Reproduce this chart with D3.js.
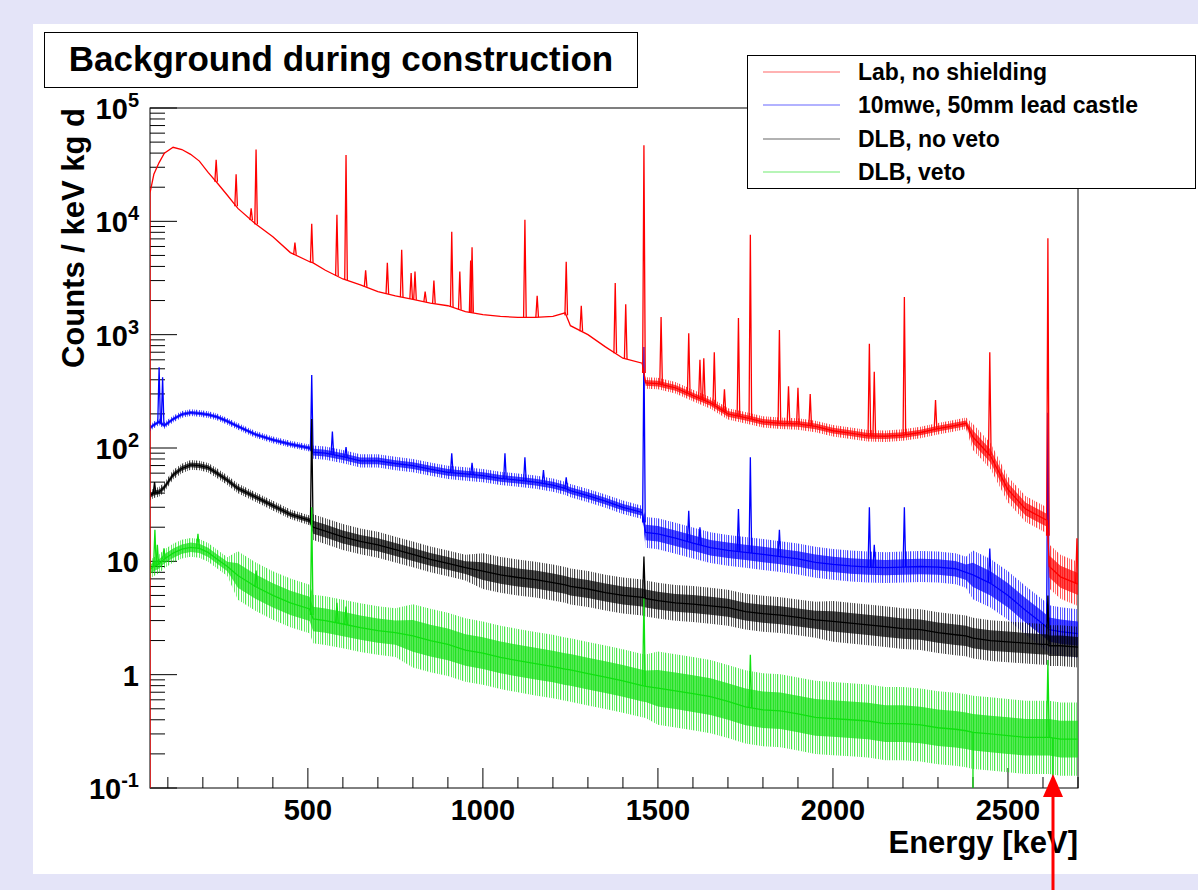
<!DOCTYPE html>
<html>
<head>
<meta charset="utf-8">
<script src="https://cdnjs.cloudflare.com/ajax/libs/d3/7.8.5/d3.min.js"></script>
<style>
  body { margin: 0; background: #e4e4f8; }
  svg { display: block; font-family: "Liberation Sans", Arial, sans-serif; font-weight: bold; }
</style>
</head>
<body>
<svg id="chart" width="1198" height="890"></svg>
<script>
// energy grid [keV] shared by the four spectra
const energy = [49, 60, 75, 90, 115, 140, 165, 190, 215, 240,
  270, 300, 350, 400, 450, 505, 515, 550, 600, 650,
  700, 750, 800, 850, 900, 950, 1000, 1050, 1100, 1150,
  1200, 1235, 1250, 1300, 1350, 1400, 1455, 1465, 1500, 1550,
  1600, 1650, 1700, 1750, 1800, 1850, 1900, 1950, 2000, 2050,
  2100, 2150, 2200, 2250, 2300, 2350, 2380, 2400, 2450, 2500, 2550,
  2600, 2612, 2618, 2650, 2700];

// continuum, counts / keV kg d
const labCounts = [17800, 26000, 33000, 40000, 45000, 43000, 39000, 34000, 27000, 22000,
  17000, 13000, 9500, 7300, 5300, 4400, 4300, 3700, 3100, 2750,
  2400, 2200, 2050, 1900, 1800, 1600, 1500, 1450, 1420, 1420,
  1450, 1560, 1200, 1000, 780, 620, 560, 375, 370, 340,
  290, 250, 200, 185, 170, 165, 163, 155, 142, 135,
  128, 127, 130, 137, 148, 158, 165, 125, 85, 43, 29,
  24, 23, 9, 7.3, 6.3];
const castleCounts = [150, 160, 170, 158, 180, 198, 205, 202, 197, 188,
  172, 155, 132, 118, 108, 100, 92, 90, 84, 77,
  77, 73, 70, 65, 61, 59, 57, 54, 52, 50,
  47, 44, 42, 38, 34, 30, 27, 18, 17.5, 16,
  14.5, 13.2, 12.5, 12, 11.5, 11, 10.5, 9.8, 9.4, 9.1,
  8.9, 8.8, 8.9, 9.0, 8.9, 8.6, 8.0, 7.6, 6.4, 5.0, 3.7,
  2.8, 2.6, 2.5, 2.4, 2.3];
const dlbCounts = [38, 40, 41, 45, 58, 66, 71, 70, 67, 60,
  52, 44, 37, 31, 26, 23, 20, 18.5, 16.4, 15,
  14, 12.7, 11.5, 10.4, 9.6, 8.8, 8.2, 7.6, 7.2, 6.9,
  6.5, 6.2, 6.0, 5.7, 5.3, 5.0, 4.8, 4.7, 4.5, 4.3,
  4.2, 4.05, 3.9, 3.6, 3.45, 3.35, 3.2, 3.05, 2.95, 2.85,
  2.75, 2.65, 2.55, 2.5, 2.35, 2.25, 2.2, 2.1, 2.0, 1.95, 1.9,
  1.85, 1.85, 1.8, 1.8, 1.75];
const vetoCounts = [8.5, 9, 9.5, 10.5, 11.8, 12.8, 13.3, 13, 12, 10.5,
  9, 7.5, 6.0, 5.0, 4.3, 3.8, 3.1, 3.0, 2.8, 2.6,
  2.45, 2.35, 2.2, 2.0, 1.85, 1.65, 1.55, 1.42, 1.33, 1.25,
  1.18, 1.12, 1.1, 1.02, 0.95, 0.88, 0.8, 0.79, 0.76, 0.72,
  0.68, 0.64, 0.58, 0.52, 0.49, 0.48, 0.45, 0.42, 0.41, 0.4,
  0.39, 0.37, 0.37, 0.36, 0.34, 0.33, 0.32, 0.31, 0.3, 0.29, 0.28,
  0.28, 0.28, 0.28, 0.27, 0.27];

// gamma lines [keV, peak height]
const labPeaks = [[238, 35000], [295, 26000], [338, 13000], [352, 43000], [463, 6500], [511, 9500],
  [583, 11400], [609, 38500], [665, 3700], [727, 4300], [768, 5600], [795, 3500], [806, 3600],
  [835, 2400], [860, 3000], [911, 8100], [934, 3600], [965, 4500], [969, 5900], [1120, 10300],
  [1155, 2200], [1238, 4400], [1281, 1800], [1378, 2850], [1408, 1850], [1460, 47000], [1509, 1430],
  [1588, 1030], [1620, 600], [1631, 620], [1661, 700], [1690, 330], [1730, 1400], [1764, 7600],
  [1847, 1100], [1873, 350], [1900, 340], [1935, 300], [2104, 830], [2118, 470], [2204, 2150],
  [2293, 265], [2448, 700], [2614, 7100], [2697, 16]];
const castlePeaks = [[75, 515], [85, 420], [511, 440], [570, 140], [609, 102], [911, 90], [969, 74],
  [1063, 90], [1120, 83], [1173, 64], [1238, 55], [1460, 780], [1588, 28], [1620, 20], [1730, 29],
  [1764, 83], [1847, 19], [2104, 30], [2118, 14], [2204, 30], [2448, 13], [2614, 205]];
const dlbPeaks = [[62, 50], [511, 180], [1460, 11], [2614, 5]];
const vetoPeaks = [[63, 19], [70, 14], [89, 13], [186, 17.5], [352, 8.3], [511, 30], [583, 4.3],
  [609, 4.0], [1460, 4.7], [1764, 1.5], [2614, 1.35]];
const vetoDips = [[2400, 0.1], [2628, 0.1]];

// fluctuation width of each spectrum [from keV, factor]
const labNoise = [[0, 1.0], [1460, 1.06], [2390, 1.14], [2614, 1.25]];
const castleNoise = [[0, 1.035], [515, 1.07], [1460, 1.17], [2390, 1.28]];
const dlbNoise = [[0, 1.05], [515, 1.14], [1000, 1.2], [2000, 1.23]];
const vetoNoise = [[0, 1.1], [300, 1.28], [800, 1.38], [1500, 1.45]];

const seriesNames = ["Lab, no shielding", "10mwe, 50mm lead castle", "DLB, no veto", "DLB, veto"];
const seriesColors = ["#ff0000", "#0000ff", "#000000", "#10e010"];

const xTickLabels = [500, 1000, 1500, 2000, 2500];
const yTickValues = [0.1, 1, 10, 100, 1000, 10000, 100000];
const yTickLabels = [["10", "-1"], ["1", ""], ["10", ""], ["10", "2"], ["10", "3"], ["10", "4"], ["10", "5"]];

const svg = d3.select("#chart");
const W = 1198, H = 890;
const L = 150, R = 1078, T = 108, B = 788;

const x = d3.scaleLinear().domain([49, 2700]).range([L, R]);
const y = d3.scaleLog().domain([0.1, 1e5]).range([B, T]);

// canvas
svg.append("rect").attr("width", W).attr("height", H).attr("fill", "#e4e4f8");
svg.append("rect").attr("x", 33).attr("y", 24).attr("width", W - 33).attr("height", 874 - 24).attr("fill", "#fff");

const defs = svg.append("defs");
defs.append("clipPath").attr("id", "plotclip")
  .append("rect").attr("x", L).attr("y", T).attr("width", R - L).attr("height", B - T);
// thin vertical hatching used for the outer fluctuation band
seriesColors.forEach((c, i) => {
  const p = defs.append("pattern").attr("id", "hatch" + i).attr("patternUnits", "userSpaceOnUse")
    .attr("width", 7).attr("height", 40);
  p.append("rect").attr("x", 0).attr("width", 1.2).attr("height", 40).attr("fill", c);
  p.append("rect").attr("x", 3).attr("width", 0.9).attr("height", 40).attr("fill", c);
  p.append("rect").attr("x", 5).attr("width", 0.7).attr("height", 40).attr("fill", c);
});

// frame
svg.append("rect").attr("x", L).attr("y", T).attr("width", R - L).attr("height", B - T)
  .attr("fill", "none").attr("stroke", "#000").attr("stroke-width", 1);

// y ticks (inside)
const yMinor = [];
for (let d = -1; d < 5; d++) for (let m = 2; m <= 9; m++) yMinor.push(m * Math.pow(10, d));
svg.append("g").selectAll("line").data(yMinor).enter().append("line")
  .attr("x1", L).attr("x2", L + 15).attr("y1", d => y(d)).attr("y2", d => y(d))
  .attr("stroke", "#000");
svg.append("g").selectAll("line").data(yTickValues).enter().append("line")
  .attr("x1", L).attr("x2", L + 27).attr("y1", d => y(d)).attr("y2", d => y(d))
  .attr("stroke", "#000");

const yl = svg.append("g").selectAll("text").data(yTickValues).enter().append("text")
  .attr("x", 139).attr("y", d => y(d) + 11).attr("text-anchor", "end")
  .attr("font-size", 29);
yl.each(function (d, i) {
  const t = d3.select(this);
  const lab = yTickLabels[i];
  t.append("tspan").text(lab[0]);
  if (lab[1]) t.append("tspan").attr("font-size", 20).attr("dy", -12).text(lab[1]);
});

// x ticks (inside)
const xMinor = d3.range(100, 2701, 100);
svg.append("g").selectAll("line").data(xMinor).enter().append("line")
  .attr("x1", d => x(d)).attr("x2", d => x(d))
  .attr("y1", B).attr("y2", d => B - (d % 500 === 0 ? 20 : 11))
  .attr("stroke", "#000");
svg.append("g").selectAll("text").data(xTickLabels).enter().append("text")
  .attr("x", d => x(d)).attr("y", 820).attr("text-anchor", "middle")
  .attr("font-size", 29).text(d => d);

// axis titles
svg.append("text").attr("x", R).attr("y", 853).attr("text-anchor", "end")
  .attr("font-size", 31).text("Energy [keV]");
svg.append("text").attr("transform", "translate(84,108) rotate(-90)").attr("text-anchor", "end")
  .attr("font-size", 31).text("Counts / keV kg d");

// spectra, drawn so that the red one ends on top (as in the original)
const series = [
  { ci: 1, values: castleCounts, peaks: castlePeaks, noise: castleNoise, dips: [] },
  { ci: 2, values: dlbCounts, peaks: dlbPeaks, noise: dlbNoise, dips: [] },
  { ci: 3, values: vetoCounts, peaks: vetoPeaks, noise: vetoNoise, dips: vetoDips },
  { ci: 0, values: labCounts, peaks: labPeaks, noise: labNoise, dips: [] }
];

function noiseAt(noise, e) {
  let f = noise[0][1];
  noise.forEach(n => { if (e >= n[0]) f = n[1]; });
  return f;
}
function baseAt(vals, e) {
  let i = d3.bisectRight(energy, e) - 1;
  i = Math.max(0, Math.min(energy.length - 2, i));
  const t = (e - energy[i]) / (energy[i + 1] - energy[i]);
  return Math.exp(Math.log(vals[i]) * (1 - t) + Math.log(vals[i + 1]) * t);
}

const plot = svg.append("g").attr("clip-path", "url(#plotclip)");
const outer = d3.area().x(d => x(d.e)).y0(d => y(d.v / (d.s * d.s))).y1(d => y(d.v * d.s * d.s));
const inner = d3.area().x(d => x(d.e)).y0(d => y(d.v / d.s)).y1(d => y(d.v * d.s));
const line = d3.line().x(d => x(d.e)).y(d => y(d.v));

series.forEach(s => {
  const color = seriesColors[s.ci];
  const pts = energy.map((e, i) => ({ e: e, v: s.values[i], s: noiseAt(s.noise, e) }));
  const g = plot.append("g");
  g.append("path").datum(pts).attr("d", outer)
    .attr("fill", "url(#hatch" + s.ci + ")").attr("fill-opacity", 0.75).attr("stroke", "none");
  g.append("path").datum(pts).attr("d", inner)
    .attr("fill", color).attr("fill-opacity", 0.7).attr("stroke", "none");
  const lpts = s.ci === 0 ? [{ e: energy[0], v: 0.1 }].concat(pts) : pts;
  g.append("path").datum(lpts).attr("d", line)
    .attr("fill", "none").attr("stroke", color).attr("stroke-width", 1.3);
  g.selectAll("path.peak").data(s.peaks).enter().append("path").attr("class", "peak")
    .attr("d", d => {
      const b = baseAt(s.values, d[0]);
      return "M" + (x(d[0]) - 1.3) + "," + y(b) + "L" + x(d[0]) + "," + y(d[1]) + "L" + (x(d[0]) + 1.3) + "," + y(b);
    })
    .attr("fill", "none").attr("stroke", color).attr("stroke-width", 1.3);
  g.selectAll("path.dip").data(s.dips).enter().append("path").attr("class", "dip")
    .attr("d", d => {
      const b = baseAt(s.values, d[0]);
      return "M" + x(d[0]) + "," + y(b) + "L" + x(d[0]) + "," + y(d[1]);
    })
    .attr("stroke", color).attr("stroke-width", 1.3);
});

// title box
svg.append("rect").attr("x", 44.5).attr("y", 32.5).attr("width", 593).attr("height", 55)
  .attr("fill", "#fff").attr("stroke", "#000").attr("stroke-width", 1);
svg.append("text").attr("x", 341).attr("y", 71).attr("text-anchor", "middle")
  .attr("font-size", 35).text("Background during construction");

// legend
const leg = svg.append("g");
leg.append("rect").attr("x", 747.5).attr("y", 55.5).attr("width", 448).attr("height", 133)
  .attr("fill", "#fff").attr("stroke", "#000").attr("stroke-width", 1);
const rows = [72, 105, 139, 172];
const le = leg.selectAll("g").data(seriesNames).enter().append("g");
le.append("line").attr("x1", 763).attr("x2", 840).attr("y1", (d, i) => rows[i]).attr("y2", (d, i) => rows[i])
  .attr("stroke", (d, i) => seriesColors[i]).attr("stroke-opacity", 0.6).attr("stroke-width", 1.2);
le.append("text").attr("x", 858).attr("y", (d, i) => rows[i] + 8).attr("font-size", 23).text(d => d);

// red marker arrow below the axis
svg.append("line").attr("x1", 1053).attr("x2", 1053).attr("y1", 890).attr("y2", 790)
  .attr("stroke", "#ff0000").attr("stroke-width", 3);
svg.append("path").attr("d", "M1053,774L1043,797L1063,797Z").attr("fill", "#ff0000");
</script>
</body>
</html>
